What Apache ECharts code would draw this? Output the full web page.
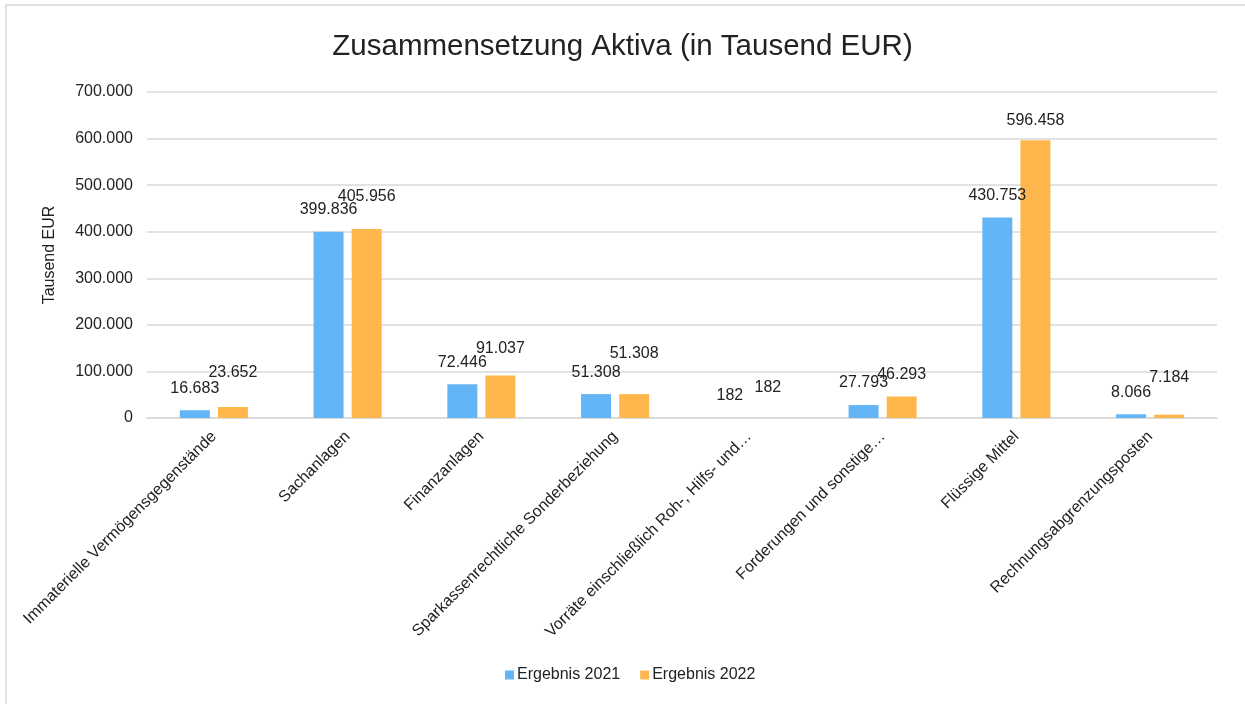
<!DOCTYPE html>
<html>
<head>
<meta charset="utf-8">
<title>Zusammensetzung Aktiva</title>
<script src="https://cdn.jsdelivr.net/npm/echarts@6/dist/echarts.min.js"></script>
<style>
  html, body { margin: 0; padding: 0; background: #fff; }
  #container { width: 1245px; height: 704px; }
</style>
</head>
<body>
<div id="container"></div>
<script>
// Werte in Tausend EUR
var categories = [
	"Immaterielle Vermögensgegenstände",
	"Sachanlagen",
	"Finanzanlagen",
	"Sparkassenrechtliche Sonderbeziehung",
	"Vorräte einschließlich Roh-, Hilfs- und…",
	"Forderungen und sonstige…",
	"Flüssige Mittel",
	"Rechnungsabgrenzungsposten"
];
var values2021 = [16683, 399836, 72446, 51308, 182, 27793, 430753, 8066];
var values2022 = [23652, 405956, 91037, 51308, 182, 46293, 596458, 7184];
var yTicks = [0, 100000, 200000, 300000, 400000, 500000, 600000, 700000];

// zusätzlicher Abstand der 2022-Labels (px), wie im Original versetzt
var lift2022 = [12, 10, 5, 19, 8, 0, -2, 15];

var textColor = "#222";
var fontFamily = "Liberation Sans, Arial, sans-serif";

function fmt(v) {
	return String(v).replace(/\B(?=(\d{3})+(?!\d))/g, ".");
}

function buildData(values, lift) {
	var arr = [];
	for (var i = 0; i < values.length; i++) {
		var item = { value: values[i] };
		if (lift && lift[i]) {
			item.label = { offset: [0, -lift[i]] };
		}
		arr.push(item);
	}
	return arr;
}

var dom = document.getElementById("container");
var myChart = echarts.init(dom, null, { renderer: "canvas" });

var option = {
	animation: false,
	backgroundColor: "#fff",
	textStyle: { fontFamily: fontFamily, color: textColor },
	graphic: [{
		type: "rect",
		shape: { x: 6, y: 5, width: 1400, height: 900 },
		style: { fill: "none", stroke: "#d9d9d9", lineWidth: 1.5 },
		silent: true
	}],
	title: {
		text: "Zusammensetzung Aktiva (in Tausend EUR)",
		left: "center",
		top: 32,
		padding: 0,
		textStyle: { fontSize: 29.5, fontWeight: "normal", color: textColor, fontFamily: fontFamily }
	},
	legend: {
		bottom: 16,
		left: 500,
		itemWidth: 9,
		itemHeight: 9,
		itemGap: 20,
		icon: "rect",
		textStyle: { fontSize: 16, color: textColor, padding: [0, 0, 0, -2] },
		data: ["Ergebnis 2021", "Ergebnis 2022"]
	},
	grid: { left: 147, right: 28, top: 92, bottom: 286 },
	xAxis: {
		type: "category",
		data: categories,
		axisLine: { lineStyle: { color: "#d9d9d9", width: 1.5 } },
		axisTick: { show: false },
		axisLabel: {
			interval: 0,
			rotate: 45,
			margin: 16,
			fontSize: 16,
			color: textColor
		}
	},
	yAxis: {
		type: "value",
		min: yTicks[0],
		max: yTicks[yTicks.length - 1],
		interval: 100000,
		name: "Tausend EUR",
		nameLocation: "middle",
		nameGap: 89,
		nameTextStyle: { fontSize: 16, color: textColor },
		axisLine: { show: false },
		axisTick: { show: false },
		splitLine: { lineStyle: { color: "#d9d9d9", width: 1.5 } },
		axisLabel: {
			margin: 14,
			fontSize: 16,
			color: textColor,
			formatter: function (v) { return fmt(v); }
		}
	},
	series: [
		{
			name: "Ergebnis 2021",
			type: "bar",
			barWidth: 30,
			barGap: "27%",
			itemStyle: { color: "#64B5F6" },
			label: {
				show: true,
				position: "top",
				distance: 14,
				fontSize: 16,
				color: textColor,
				formatter: function (p) { return fmt(p.value); }
			},
			data: buildData(values2021, null)
		},
		{
			name: "Ergebnis 2022",
			type: "bar",
			barWidth: 30,
			itemStyle: { color: "#FFB74D" },
			label: {
				show: true,
				position: "top",
				distance: 14,
				fontSize: 16,
				color: textColor,
				formatter: function (p) { return fmt(p.value); }
			},
			data: buildData(values2022, lift2022)
		}
	]
};

myChart.setOption(option);
</script>
</body>
</html>
